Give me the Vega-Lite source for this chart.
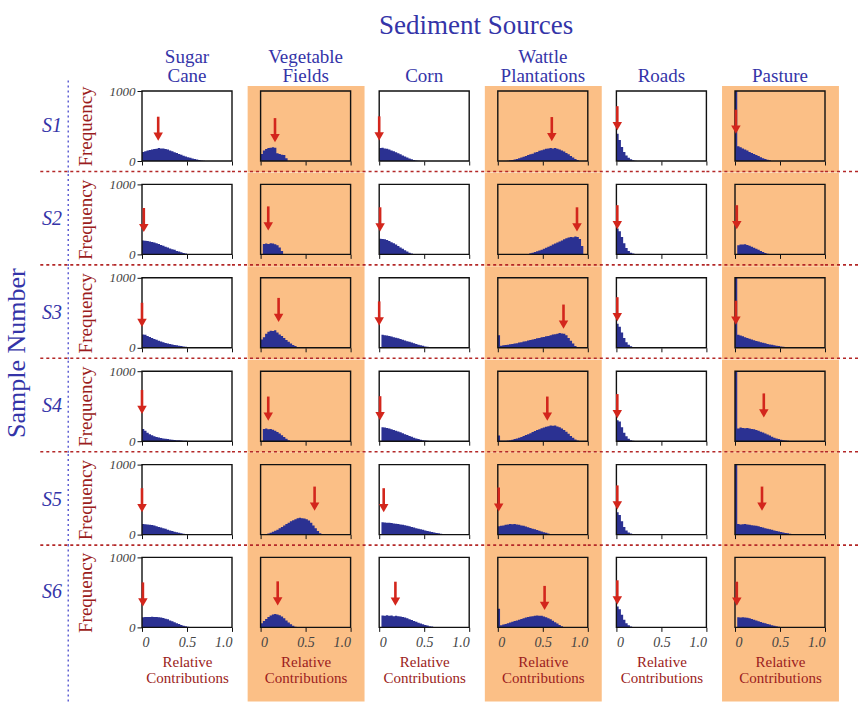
{
"$schema": "https://vega.github.io/schema/vega-lite/v6.json",
"padding": {"left": 3, "top": 12, "right": 0, "bottom": 0},
"background": "white",
"title": {"text": "Sample Number", "orient": "left", "anchor": "middle", "font": "Liberation Serif", "fontSize": 26, "fontWeight": "normal", "color": "#3434a8", "offset": 10, "dx": 4},
"datasets": {"h": [
{"s":"S1","c":"Sugar Cane","a":0.18,"t":290,"x":[0,0.025,0.05,0.075,0.1,0.125,0.15,0.175,0.2,0.225,0.25,0.275,0.3,0.325,0.35,0.375,0.4,0.425,0.45,0.475,0.5,0.525,0.55,0.575,0.6,0.625,0.65,0.675,0.7],"n":[130,140,150,158,165,170,175,185,180,178,170,165,150,140,125,115,100,90,75,65,55,45,35,28,20,14,8,5,0]},
{"s":"S1","c":"Vegetable Fields","a":0.16,"t":270,"x":[0,0.025,0.05,0.075,0.1,0.125,0.15,0.175,0.2,0.225,0.25,0.275,0.3],"n":[100,150,170,185,190,195,190,110,100,90,85,40,0]},
{"s":"S1","c":"Corn","a":0.0,"t":295,"x":[0,0.025,0.05,0.075,0.1,0.125,0.15,0.175,0.2,0.225,0.25,0.275,0.3,0.325,0.35,0.375,0.4,0.425,0.45],"n":[185,190,180,175,165,150,140,125,110,95,80,65,50,35,25,15,8,3,0]},
{"s":"S1","c":"Wattle Plantations","a":0.6,"t":285,"x":[0.1,0.125,0.15,0.175,0.2,0.225,0.25,0.275,0.3,0.325,0.35,0.375,0.4,0.425,0.45,0.475,0.5,0.525,0.55,0.575,0.6,0.625,0.65,0.675,0.7,0.725,0.75,0.775,0.8,0.825,0.85,0.875,0.9],"n":[5,10,15,20,30,40,50,60,70,85,95,105,120,130,145,155,165,175,180,185,180,185,175,165,150,135,115,95,70,50,30,15,0]},
{"s":"S1","c":"Roads","a":0.01,"t":440,"x":[0,0.025,0.05,0.075,0.1,0.125,0.15,0.175,0.2,0.225],"n":[390,300,200,130,80,45,25,12,5,0]},
{"s":"S1","c":"Pasture","a":0.01,"t":390,"x":[0,0.025,0.05,0.075,0.1,0.125,0.15,0.175,0.2,0.225,0.25,0.275,0.3,0.325,0.35,0.375,0.4],"n":[1000,210,195,180,165,150,130,115,100,85,70,55,40,28,18,10,0]},
{"s":"S2","c":"Sugar Cane","a":0.02,"t":320,"x":[0,0.025,0.05,0.075,0.1,0.125,0.15,0.175,0.2,0.225,0.25,0.275,0.3,0.325,0.35,0.375,0.4,0.425,0.45,0.475,0.5,0.525],"n":[200,195,190,185,178,170,160,150,135,125,110,100,85,75,65,50,40,30,20,12,5,0]},
{"s":"S2","c":"Vegetable Fields","a":0.085,"t":343,"x":[0,0.025,0.05,0.075,0.1,0.125,0.15,0.175,0.2,0.225,0.25],"n":[0,150,155,150,160,155,145,130,100,50,0]},
{"s":"S2","c":"Corn","a":0.01,"t":330,"x":[0,0.025,0.05,0.075,0.1,0.125,0.15,0.175,0.2,0.225,0.25,0.275,0.3,0.325,0.35,0.375,0.4],"n":[225,220,215,205,190,175,160,140,120,100,80,60,40,25,12,5,0]},
{"s":"S2","c":"Wattle Plantations","a":0.88,"t":330,"x":[0.325,0.35,0.375,0.4,0.425,0.45,0.475,0.5,0.525,0.55,0.575,0.6,0.625,0.65,0.675,0.7,0.725,0.75,0.775,0.8,0.825,0.85,0.875,0.9,0.925,0.95],"n":[5,15,25,35,45,55,65,80,95,110,125,140,155,170,185,200,215,230,240,250,245,255,250,220,120,0]},
{"s":"S2","c":"Roads","a":0.01,"t":360,"x":[0,0.025,0.05,0.075,0.1,0.125,0.15,0.175,0.2,0.225],"n":[370,330,250,160,90,50,25,12,5,0]},
{"s":"S2","c":"Pasture","a":0.02,"t":360,"x":[0,0.025,0.05,0.075,0.1,0.125,0.15,0.175,0.2,0.225,0.25,0.275,0.3,0.325,0.35,0.375],"n":[0,130,140,140,145,135,125,110,95,80,65,50,35,20,10,0]},
{"s":"S3","c":"Sugar Cane","a":0.0,"t":300,"x":[0,0.025,0.05,0.075,0.1,0.125,0.15,0.175,0.2,0.225,0.25,0.275,0.3,0.325,0.35,0.375,0.4,0.425,0.45,0.475,0.5,0.525,0.55,0.575],"n":[190,185,170,155,140,125,115,100,90,80,70,62,55,48,40,35,30,25,20,15,10,6,3,0]},
{"s":"S3","c":"Vegetable Fields","a":0.2,"t":370,"x":[0,0.025,0.05,0.075,0.1,0.125,0.15,0.175,0.2,0.225,0.25,0.275,0.3,0.325,0.35,0.375,0.4,0.425],"n":[120,150,200,230,245,240,250,220,190,170,140,110,85,60,40,25,10,0]},
{"s":"S3","c":"Corn","a":0.0,"t":320,"x":[0,0.025,0.05,0.075,0.1,0.125,0.15,0.175,0.2,0.225,0.25,0.275,0.3,0.325,0.35,0.375,0.4,0.425,0.45,0.475,0.5,0.525,0.55,0.575,0.6,0.625],"n":[0,185,180,175,170,160,150,142,135,125,115,105,95,85,75,65,55,45,36,28,20,14,9,5,2,0]},
{"s":"S3","c":"Wattle Plantations","a":0.73,"t":275,"x":[0,0.025,0.05,0.075,0.1,0.125,0.15,0.175,0.2,0.225,0.25,0.275,0.3,0.325,0.35,0.375,0.4,0.425,0.45,0.475,0.5,0.525,0.55,0.575,0.6,0.625,0.65,0.675,0.7,0.725,0.75,0.775,0.8,0.825,0.85,0.875],"n":[180,30,35,40,45,50,55,60,65,75,80,90,95,105,110,120,125,135,140,150,155,165,170,180,190,195,200,210,205,200,180,140,100,60,25,0]},
{"s":"S3","c":"Roads","a":0.01,"t":380,"x":[0,0.025,0.05,0.075,0.1,0.125,0.15,0.175,0.2,0.225],"n":[345,300,220,140,80,45,22,10,4,0]},
{"s":"S3","c":"Pasture","a":0.01,"t":330,"x":[0,0.025,0.05,0.075,0.1,0.125,0.15,0.175,0.2,0.225,0.25,0.275,0.3,0.325,0.35,0.375,0.4,0.425,0.45,0.475,0.5,0.525,0.55,0.575,0.6,0.625],"n":[1000,185,175,165,150,140,128,118,108,98,90,80,72,64,56,48,42,36,30,25,20,15,10,6,3,0]},
{"s":"S4","c":"Sugar Cane","a":0.0,"t":390,"x":[0,0.025,0.05,0.075,0.1,0.125,0.15,0.175,0.2,0.225,0.25,0.275,0.3,0.325,0.35,0.375,0.4,0.425,0.45,0.475,0.5,0.525],"n":[175,150,120,100,85,70,60,52,45,40,35,30,26,22,18,15,12,10,8,5,3,0]},
{"s":"S4","c":"Vegetable Fields","a":0.085,"t":295,"x":[0,0.025,0.05,0.075,0.1,0.125,0.15,0.175,0.2,0.225,0.25,0.275,0.3,0.325],"n":[0,175,180,170,175,165,150,130,110,85,60,35,15,0]},
{"s":"S4","c":"Corn","a":0.01,"t":300,"x":[0,0.025,0.05,0.075,0.1,0.125,0.15,0.175,0.2,0.225,0.25,0.275,0.3,0.325,0.35,0.375,0.4,0.425,0.45,0.475,0.5,0.525,0.55,0.575],"n":[0,200,195,190,180,170,160,150,140,128,115,100,88,75,62,50,40,30,22,15,10,5,2,0]},
{"s":"S4","c":"Wattle Plantations","a":0.55,"t":295,"x":[0,0.025,0.05,0.075,0.1,0.125,0.15,0.175,0.2,0.225,0.25,0.275,0.3,0.325,0.35,0.375,0.4,0.425,0.45,0.475,0.5,0.525,0.55,0.575,0.6,0.625,0.65,0.675,0.7,0.725,0.75,0.775,0.8,0.825,0.85,0.875,0.9],"n":[80,5,5,8,10,15,20,30,40,50,60,75,90,100,115,130,145,160,170,185,195,205,215,225,220,225,210,200,180,160,135,105,75,50,25,10,0]},
{"s":"S4","c":"Roads","a":0.01,"t":330,"x":[0,0.025,0.05,0.075,0.1,0.125,0.15,0.175,0.2],"n":[300,280,200,120,70,35,15,6,0]},
{"s":"S4","c":"Pasture","a":0.32,"t":340,"x":[0,0.025,0.05,0.075,0.1,0.125,0.15,0.175,0.2,0.225,0.25,0.275,0.3,0.325,0.35,0.375,0.4,0.425,0.45,0.475,0.5,0.525,0.55,0.575,0.6,0.625,0.65],"n":[1000,180,195,190,185,190,180,175,170,160,150,135,125,110,95,80,65,50,40,30,22,15,10,6,4,2,0]},
{"s":"S5","c":"Sugar Cane","a":0.0,"t":320,"x":[0,0.025,0.05,0.075,0.1,0.125,0.15,0.175,0.2,0.225,0.25,0.275,0.3,0.325,0.35,0.375,0.4,0.425,0.45,0.475,0.5,0.525],"n":[150,148,145,140,138,130,120,110,100,92,82,70,60,50,40,32,25,18,12,6,3,0]},
{"s":"S5","c":"Vegetable Fields","a":0.6,"t":343,"x":[0.05,0.075,0.1,0.125,0.15,0.175,0.2,0.225,0.25,0.275,0.3,0.325,0.35,0.375,0.4,0.425,0.45,0.475,0.5,0.525,0.55,0.575,0.6,0.625,0.65,0.675],"n":[5,15,25,40,55,70,90,110,130,150,170,190,205,220,235,240,235,230,220,200,170,130,90,50,20,0]},
{"s":"S5","c":"Corn","a":0.05,"t":320,"x":[0,0.025,0.05,0.075,0.1,0.125,0.15,0.175,0.2,0.225,0.25,0.275,0.3,0.325,0.35,0.375,0.4,0.425,0.45,0.475,0.5,0.525,0.55,0.575,0.6,0.625,0.65,0.675,0.7,0.725,0.75,0.775],"n":[0,176,172,170,168,165,160,155,150,145,140,132,125,118,110,100,92,84,76,68,60,52,45,38,30,24,18,12,8,4,2,0]},
{"s":"S5","c":"Wattle Plantations","a":0.01,"t":330,"x":[0,0.025,0.05,0.075,0.1,0.125,0.15,0.175,0.2,0.225,0.25,0.275,0.3,0.325,0.35,0.375,0.4,0.425,0.45,0.475,0.5,0.525,0.55,0.575,0.6],"n":[120,125,130,140,145,150,148,150,145,140,130,125,115,105,95,85,75,65,55,45,35,25,15,5,0]},
{"s":"S5","c":"Roads","a":0.01,"t":360,"x":[0,0.025,0.05,0.075,0.1,0.125,0.15,0.175,0.2,0.225],"n":[320,280,190,110,60,30,15,7,3,0]},
{"s":"S5","c":"Pasture","a":0.3,"t":343,"x":[0,0.025,0.05,0.075,0.1,0.125,0.15,0.175,0.2,0.225,0.25,0.275,0.3,0.325,0.35,0.375,0.4,0.425,0.45,0.475,0.5,0.525,0.55,0.575,0.6,0.625,0.65,0.675,0.7],"n":[1000,150,145,148,150,145,140,135,130,125,118,110,100,92,85,76,68,60,52,45,38,30,24,18,12,8,4,2,0]},
{"s":"S6","c":"Sugar Cane","a":0.01,"t":300,"x":[0,0.025,0.05,0.075,0.1,0.125,0.15,0.175,0.2,0.225,0.25,0.275,0.3,0.325,0.35,0.375,0.4,0.425,0.45,0.475,0.5,0.525,0.55],"n":[145,150,148,150,152,148,150,145,140,135,125,115,100,88,75,60,48,35,25,15,8,3,0]},
{"s":"S6","c":"Vegetable Fields","a":0.19,"t":315,"x":[0,0.025,0.05,0.075,0.1,0.125,0.15,0.175,0.2,0.225,0.25,0.275,0.3,0.325,0.35,0.375,0.4],"n":[60,90,120,150,170,185,190,185,175,155,130,100,70,45,25,10,0]},
{"s":"S6","c":"Corn","a":0.18,"t":310,"x":[0,0.025,0.05,0.075,0.1,0.125,0.15,0.175,0.2,0.225,0.25,0.275,0.3,0.325,0.35,0.375,0.4,0.425,0.45,0.475,0.5,0.525,0.55,0.575,0.6,0.625,0.65],"n":[0,170,168,172,165,170,160,165,158,155,150,140,130,118,105,92,80,68,56,45,35,26,18,12,6,3,0]},
{"s":"S6","c":"Wattle Plantations","a":0.52,"t":250,"x":[0,0.025,0.05,0.075,0.1,0.125,0.15,0.175,0.2,0.225,0.25,0.275,0.3,0.325,0.35,0.375,0.4,0.425,0.45,0.475,0.5,0.525,0.55,0.575,0.6,0.625,0.65,0.675,0.7,0.725],"n":[265,30,40,50,60,70,80,90,100,110,120,130,140,148,155,160,168,170,168,165,155,145,130,115,95,75,55,35,15,0]},
{"s":"S6","c":"Roads","a":0.01,"t":330,"x":[0,0.025,0.05,0.075,0.1,0.125,0.15,0.175,0.2],"n":[300,260,180,110,60,30,14,6,0]},
{"s":"S6","c":"Pasture","a":0.02,"t":310,"x":[0,0.025,0.05,0.075,0.1,0.125,0.15,0.175,0.2,0.225,0.25,0.275,0.3,0.325,0.35,0.375,0.4,0.425,0.45,0.475,0.5,0.525,0.55],"n":[0,145,140,145,140,138,130,120,110,98,88,78,68,58,48,40,32,24,17,11,6,3,0]}
]},
"spacing": -2.6,
"vconcat": [
{
"title": {"text": "Sediment Sources", "anchor": "middle", "frame": "bounds", "dx": 26, "fontSize": 27, "font": "Liberation Serif", "fontWeight": "normal", "color": "#3434a8", "offset": 8},
"data": {"name": "h"},
"transform": [{"filter": "datum.s != 'S6'"}],
"facet": {
"row": {"field": "s", "type": "nominal", "header": {"title": null, "labelAngle": 0, "labelFontStyle": "italic", "labelFontSize": 20, "labelAlign": "right", "labelPadding": -6}},
"column": {"field": "c", "type": "nominal", "sort": ["Sugar Cane", "Vegetable Fields", "Corn", "Wattle Plantations", "Roads", "Pasture"], "title": null, "header": {"title": null, "labelFontSize": 19, "labelExpr": "split(datum.value, ' ')", "labelLineHeight": 19, "labelPadding": -14, "labelBaseline": "bottom"}}
},
"spacing": {"row": 23.4, "column": 28.6},
"bounds": "flush",
"resolve": {"axis": {"x": "independent"}},
"spec": {
"width": 90, "height": 70,
"layer": [
{"transform": [{"filter": "datum.s!='S1'&&(datum.c=='Vegetable Fields'||datum.c=='Wattle Plantations'||datum.c=='Pasture')"}],
 "mark": {"type": "rect", "fill": "#fbbf86"},
 "encoding": {"x": {"datum": -0.144, "type": "quantitative", "scale": {"domain": [0, 1], "nice": false, "zero": false}}, "x2": {"datum": 1.155}, "y": {"datum": -164, "type": "quantitative", "scale": {"domain": [0, 1000], "nice": false}}, "y2": {"datum": 1164}}},
{"transform": [{"filter": "datum.s=='S1'&&(datum.c=='Vegetable Fields'||datum.c=='Wattle Plantations'||datum.c=='Pasture')"}],
 "mark": {"type": "rect", "fill": "#fbbf86"},
 "encoding": {"x": {"datum": -0.144, "type": "quantitative", "scale": {"domain": [0, 1], "nice": false, "zero": false}}, "x2": {"datum": 1.155}, "y": {"datum": -164, "type": "quantitative", "scale": {"domain": [0, 1000], "nice": false}}, "y2": {"datum": 1071}}},
{"transform": [{"filter": "datum.c=='Sugar Cane'"}],
 "mark": {"type": "rule", "stroke": "#3a3ac8", "strokeWidth": 1.2, "strokeDash": [2, 3]},
 "encoding": {"x": {"datum": -0.82, "type": "quantitative", "scale": {"domain": [0, 1], "nice": false, "zero": false}}, "y": {"datum": -164, "type": "quantitative", "scale": {"domain": [0, 1000], "nice": false}}, "y2": {"datum": 1164}}},
{"mark": {"type": "rule", "stroke": "#b42828", "strokeWidth": 1.6, "strokeDash": [3, 3]},
 "encoding": {"x": {"datum": -0.318, "type": "quantitative", "scale": {"domain": [0, 1], "nice": false, "zero": false}}, "x2": {"datum": 1}, "y": {"datum": -150, "type": "quantitative", "scale": {"domain": [0, 1000], "nice": false}}}},
{"transform": [{"filter": "datum.c=='Sugar Cane'"}],
 "mark": {"type": "rule", "stroke": "#b42828", "strokeWidth": 1.6, "strokeDash": [3, 3]},
 "encoding": {"x": {"datum": -1.13, "type": "quantitative", "scale": {"domain": [0, 1], "nice": false, "zero": false}}, "x2": {"datum": -0.318}, "y": {"datum": -150, "type": "quantitative", "scale": {"domain": [0, 1000], "nice": false}}}},
{"transform": [{"filter": "datum.c=='Pasture'"}],
 "mark": {"type": "rule", "stroke": "#b42828", "strokeWidth": 1.6, "strokeDash": [3, 3]},
 "encoding": {"x": {"datum": 1, "type": "quantitative", "scale": {"domain": [0, 1], "nice": false, "zero": false}}, "x2": {"datum": 1.39}, "y": {"datum": -150, "type": "quantitative", "scale": {"domain": [0, 1000], "nice": false}}}},
{"transform": [{"flatten": ["x", "n"]}],
 "mark": {"type": "area", "interpolate": "step-after", "fill": "#2b3192"},
 "encoding": {"x": {"field": "x", "type": "quantitative", "scale": {"domain": [0, 1], "nice": false, "zero": false}, "axis": {"values": [0, 0.5, 1], "labels": false, "title": null, "tickSize": 4, "zindex": 1}}, "y": {"field": "n", "type": "quantitative", "scale": {"domain": [0, 1000], "nice": false}, "axis": {"values": [0, 500, 1000], "format": "d", "title": "Frequency", "titlePadding": 14, "labelPadding": 2, "zindex": 1}}}},
{"mark": {"type": "rect", "fillOpacity": 0, "stroke": "#111", "strokeWidth": 1.4},
 "encoding": {"x": {"datum": 0, "type": "quantitative", "scale": {"domain": [0, 1], "nice": false, "zero": false}}, "x2": {"datum": 1}, "y": {"datum": 0, "type": "quantitative", "scale": {"domain": [0, 1000], "nice": false}}, "y2": {"datum": 1000}}},
{"mark": {"type": "rule", "color": "#d3261c", "strokeWidth": 2.6, "yOffset": -6, "y2Offset": -24},
 "encoding": {"x": {"field": "a", "type": "quantitative", "scale": {"domain": [0, 1], "nice": false, "zero": false}}, "y": {"field": "t", "type": "quantitative", "scale": {"domain": [0, 1000], "nice": false}}, "y2": {"field": "t"}}},
{"mark": {"type": "point", "shape": "triangle-down", "filled": true, "color": "#d3261c", "size": 90, "yOffset": -4, "opacity": 1},
 "encoding": {"x": {"field": "a", "type": "quantitative", "scale": {"domain": [0, 1], "nice": false, "zero": false}}, "y": {"field": "t", "type": "quantitative", "scale": {"domain": [0, 1000], "nice": false}}}}
]
}
},
{
"data": {"name": "h"},
"transform": [{"filter": "datum.s == 'S6'"}],
"facet": {
"row": {"field": "s", "type": "nominal", "header": {"title": null, "labelAngle": 0, "labelFontStyle": "italic", "labelFontSize": 20, "labelAlign": "right", "labelPadding": -6}},
"column": {"field": "c", "type": "nominal", "sort": ["Sugar Cane", "Vegetable Fields", "Corn", "Wattle Plantations", "Roads", "Pasture"], "title": null, "header": {"labels": false, "title": null}}
},
"spacing": {"row": 23.4, "column": 28.6},
"bounds": "flush",
"resolve": {"axis": {"x": "independent"}},
"spec": {
"width": 90, "height": 70,
"layer": [
{"transform": [{"filter": "datum.c=='Vegetable Fields'||datum.c=='Wattle Plantations'||datum.c=='Pasture'"}],
 "mark": {"type": "rect", "fill": "#fbbf86"},
 "encoding": {"x": {"datum": -0.144, "type": "quantitative", "scale": {"domain": [0, 1], "nice": false, "zero": false}}, "x2": {"datum": 1.155}, "y": {"datum": -1060, "type": "quantitative", "scale": {"domain": [0, 1000], "nice": false}}, "y2": {"datum": 1164}}},
{"transform": [{"filter": "datum.c=='Sugar Cane'"}],
 "mark": {"type": "rule", "stroke": "#3a3ac8", "strokeWidth": 1.2, "strokeDash": [2, 3]},
 "encoding": {"x": {"datum": -0.82, "type": "quantitative", "scale": {"domain": [0, 1], "nice": false, "zero": false}}, "y": {"datum": -1060, "type": "quantitative", "scale": {"domain": [0, 1000], "nice": false}}, "y2": {"datum": 1164}}},
{"transform": [{"flatten": ["x", "n"]}],
 "mark": {"type": "area", "interpolate": "step-after", "fill": "#2b3192"},
 "encoding": {"x": {"field": "x", "type": "quantitative", "scale": {"domain": [0, 1], "nice": false, "zero": false}, "axis": {"values": [0, 0.5, 1], "labelExpr": "datum.value == 0 ? '0' : format(datum.value, '.1f')", "title": ["Relative", "Contributions"], "titleFontSize": 15, "titleLineHeight": 16, "titlePadding": 5, "labelPadding": 4, "labelFontSize": 14, "tickSize": 4, "zindex": 1}}, "y": {"field": "n", "type": "quantitative", "scale": {"domain": [0, 1000], "nice": false}, "axis": {"values": [0, 500, 1000], "format": "d", "title": "Frequency", "titlePadding": 14, "labelPadding": 2, "zindex": 1}}}},
{"mark": {"type": "rect", "fillOpacity": 0, "stroke": "#111", "strokeWidth": 1.4},
 "encoding": {"x": {"datum": 0, "type": "quantitative", "scale": {"domain": [0, 1], "nice": false, "zero": false}}, "x2": {"datum": 1}, "y": {"datum": 0, "type": "quantitative", "scale": {"domain": [0, 1000], "nice": false}}, "y2": {"datum": 1000}}},
{"mark": {"type": "rule", "color": "#d3261c", "strokeWidth": 2.6, "yOffset": -6, "y2Offset": -24},
 "encoding": {"x": {"field": "a", "type": "quantitative", "scale": {"domain": [0, 1], "nice": false, "zero": false}}, "y": {"field": "t", "type": "quantitative", "scale": {"domain": [0, 1000], "nice": false}}, "y2": {"field": "t"}}},
{"mark": {"type": "point", "shape": "triangle-down", "filled": true, "color": "#d3261c", "size": 90, "yOffset": -4, "opacity": 1},
 "encoding": {"x": {"field": "a", "type": "quantitative", "scale": {"domain": [0, 1], "nice": false, "zero": false}}, "y": {"field": "t", "type": "quantitative", "scale": {"domain": [0, 1000], "nice": false}}}}
]
}
}
],
"config": {
"view": {"stroke": null},
"axis": {"grid": false, "domain": false, "labelFont": "Liberation Serif", "labelFontStyle": "italic", "labelColor": "#444", "labelFontSize": 13, "titleFont": "Liberation Serif", "titleFontWeight": "normal", "titleColor": "#9b1c20", "titleFontSize": 19, "tickColor": "#111", "tickSize": 5},
"header": {"labelFont": "Liberation Serif", "titleFont": "Liberation Serif", "labelColor": "#3434a8", "titleColor": "#3434a8", "titleFontWeight": "normal"}
}
}
